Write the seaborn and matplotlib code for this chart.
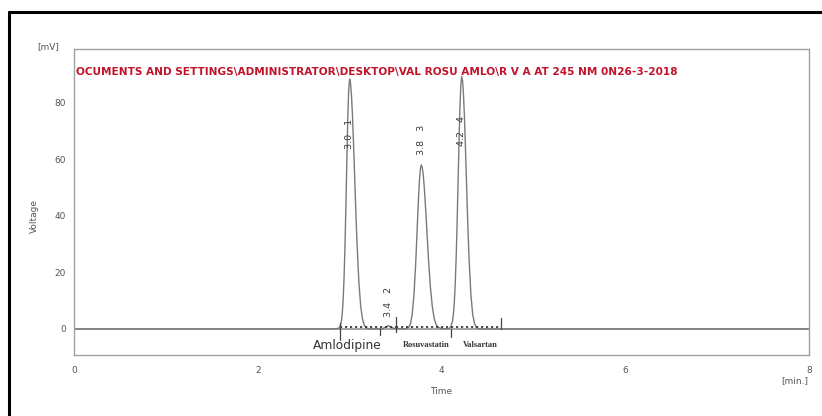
import matplotlib
matplotlib.use("Agg")
import matplotlib.pyplot as plt
from matplotlib.lines import Line2D
import seaborn as sns
import pandas as pd

# Detector trace (time in min, signal in mV), one pair of lists per region
t_flat_start = [0.00, 2.80]
v_flat_start = [0.0, 0.0]

t_amlo = [2.88, 2.90, 2.91, 2.92, 2.93, 2.94, 2.95, 2.96, 2.97, 2.98, 2.99,
          3.00, 3.01, 3.02, 3.03, 3.04, 3.05, 3.06, 3.07, 3.08, 3.10, 3.12,
          3.14, 3.16, 3.19, 3.25]
v_amlo = [0.2, 1.2, 2.7, 5.5, 10.6, 18.6, 30.0, 44.2, 59.9, 74.4, 84.7,
          88.4, 86.9, 82.7, 76.2, 67.9, 58.5, 48.8, 39.3, 30.7, 16.9, 8.2,
          3.5, 1.3, 0.2, 0.0]

t_minor = [3.36, 3.40, 3.42, 3.44, 3.48]
v_minor = [0.1, 0.8, 1.2, 0.8, 0.2]

t_rosu = [3.60, 3.64, 3.66, 3.68, 3.70, 3.72, 3.73, 3.74, 3.75, 3.76, 3.77,
          3.78, 3.79, 3.80, 3.81, 3.82, 3.83, 3.84, 3.85, 3.86, 3.88, 3.90,
          3.92, 3.94, 3.96, 4.00]
v_rosu = [0.0, 0.5, 1.6, 4.9, 11.9, 23.8, 31.3, 39.1, 46.4, 52.5, 56.6,
          58.0, 57.2, 54.9, 51.2, 46.4, 41.0, 35.2, 29.4, 23.8, 14.5, 7.9,
          3.8, 1.7, 0.7, 0.1]

t_vals = [4.08, 4.10, 4.12, 4.13, 4.14, 4.15, 4.16, 4.17, 4.18, 4.19, 4.20,
          4.21, 4.22, 4.23, 4.24, 4.25, 4.26, 4.27, 4.28, 4.29, 4.30, 4.32,
          4.34, 4.36, 4.38, 4.41]
v_vals = [0.1, 0.6, 2.8, 5.4, 9.7, 16.4, 25.7, 37.6, 51.3, 65.4, 77.7,
          86.3, 89.3, 87.5, 82.4, 74.6, 64.8, 54.2, 43.5, 33.5, 24.8, 12.1,
          5.0, 1.8, 0.5, 0.0]

t_flat_end = [8.00]
v_flat_end = [0.0]

time_min = t_flat_start + t_amlo + t_minor + t_rosu + t_vals + t_flat_end
signal_mv = v_flat_start + v_amlo + v_minor + v_rosu + v_vals + v_flat_end

# Integrated peaks
peak_numbers = [1, 2, 3, 4]
peak_times = [3.0, 3.4, 3.8, 4.2]
peak_label_x = [3.00, 3.42, 3.78, 4.22]
peak_label_y = [69.0, 9.6, 66.9, 70.1]

# Integration baseline segments and boundary markers
baseline_start = [2.89, 3.33, 3.51, 4.10]
baseline_end = [3.33, 3.51, 4.10, 4.65]
marker_t = [2.89, 3.33, 3.51, 4.10, 4.65]
marker_lo = [-3.9, -2.0, -0.9, -2.7, 0.0]
marker_hi = [2.1, 0.0, 4.4, 0.0, 3.9]

# Compound names
compound_names = ["Amlodipine", "Rosuvastatin", "Valsartan"]
compound_x = [2.97, 3.83, 4.42]
compound_y = [-6.0, -5.6, -5.6]

x_ticks = [0, 2, 4, 6, 8]
y_ticks = [0, 20, 40, 60, 80]

file_title = ("OCUMENTS AND SETTINGS\\ADMINISTRATOR\\DESKTOP\\VAL ROSU AMLO\\"
              "R V A AT 245 NM 0N26-3-2018")

sns.set_style("white")
plt.rcParams["font.family"] = ["DejaVu Sans"]

W, H = 822, 416
fig = plt.figure(figsize=(W / 100, H / 100), dpi=100)
ax = fig.add_axes([74 / W, 1 - 355 / H, (809 - 74) / W, (355 - 49) / H])

trace = pd.DataFrame({"Time": time_min, "Voltage": signal_mv})
sns.lineplot(data=trace, x="Time", y="Voltage", ax=ax, color="#7a7a7a",
             linewidth=1.0, estimator=None, sort=True)

# zero line across the whole run
ax.axhline(0, color="#8a8a8a", linewidth=1.1, zorder=1)

# integration baselines
for s, e in zip(baseline_start, baseline_end):
    ax.plot([s, e], [0.6, 0.6], color="#2a2a2a", linestyle=(0, (1.3, 1.7)),
            linewidth=1.2)
for t, lo, hi in zip(marker_t, marker_lo, marker_hi):
    ax.plot([t, t], [lo, hi], color="#444444", linewidth=0.9)

# peak annotations: retention time and peak number
for n, rt, lx, ly in zip(peak_numbers, peak_times, peak_label_x, peak_label_y):
    ax.text(lx, ly, f"{rt:.1f}   {n}", rotation=90, ha="center", va="center",
            fontsize=6.8, color="#3a3a3a")

for name, cx, cy in zip(compound_names, compound_x, compound_y):
    if name == "Amlodipine":
        ax.text(cx, cy, name, ha="center", va="center", fontsize=8.8,
                color="#333333")
    else:
        ax.text(cx, cy, name, ha="center", va="center", fontsize=6.0,
                color="#333333", family="Liberation Serif", weight="bold")

ax.text(0.02, 91.0, file_title, ha="left", va="center", fontsize=7.6,
        color="#c0142c", weight="bold", family="DejaVu Sans")

ax.set_xlim(0, 8)
ax.set_ylim(-9.2, 99)
ax.set_xticks(x_ticks)
ax.set_yticks(y_ticks)
ax.set_xticklabels([str(v) for v in x_ticks])
ax.set_yticklabels([str(v) for v in y_ticks])
ax.set_xlabel("")
ax.set_ylabel("")
ax.tick_params(axis="both", labelsize=6.5, labelcolor="#555555",
               color="#999999", length=3, width=0.8, direction="out")
ax.tick_params(axis="x", pad=8, length=0)
ax.tick_params(axis="y", pad=3)
for sp in ax.spines.values():
    sp.set_color("#a0a0a0")
    sp.set_linewidth(1.0)

fig.text(48 / W, 1 - 47 / H, "[mV]", fontsize=6.5, color="#555555",
         ha="center", va="center")
fig.text(34 / W, 1 - 216 / H, "Voltage", fontsize=6.5, color="#555555",
         rotation=90, ha="center", va="center")
fig.text(441 / W, 1 - 392 / H, "Time", fontsize=6.5, color="#555555",
         ha="center", va="center")
fig.text(795 / W, 1 - 381 / H, "[min.]", fontsize=6.5, color="#555555",
         ha="center", va="center")

# outer frame (left and top edges)
fig.add_artist(Line2D([9 / W, 9 / W], [0, 1 - 12 / H], color="black",
                      linewidth=2.2, transform=fig.transFigure))
fig.add_artist(Line2D([9 / W, 1], [1 - 12 / H, 1 - 12 / H], color="black",
                      linewidth=2.2, transform=fig.transFigure))

fig.savefig("out.png", dpi=100)
